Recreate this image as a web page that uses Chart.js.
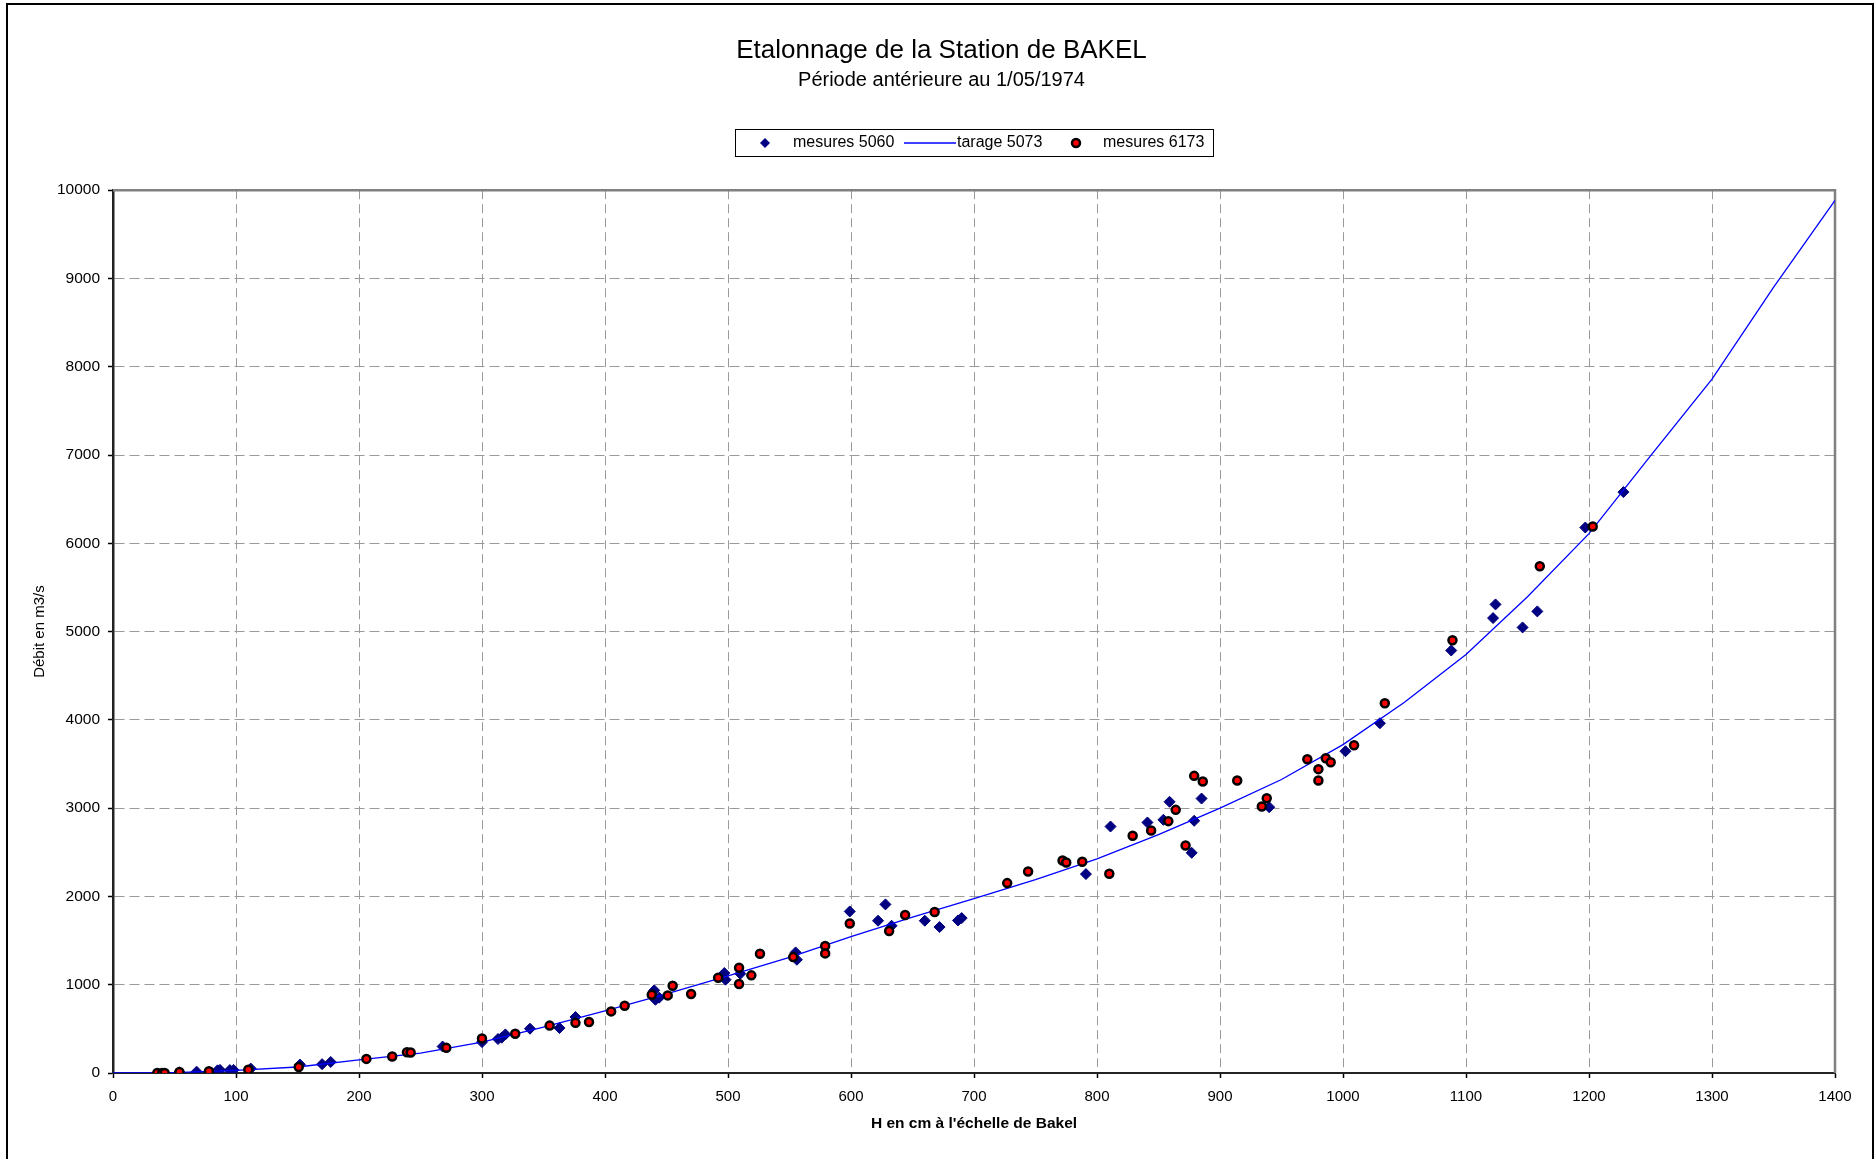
<!DOCTYPE html>
<html lang="fr">
<head>
<meta charset="UTF-8">
<title>Etalonnage de la Station de BAKEL</title>
<script src="https://cdn.jsdelivr.net/npm/chart.js"></script>
<style>
  html, body { margin: 0; padding: 0; background: #fff; }
  #wrap { width: 1876px; height: 1159px; }
</style>
</head>
<body>
<div id="wrap"><canvas id="bakel" width="1876" height="1159"></canvas></div>
<script>
// hauteurs H (cm) et débits Q (m3/s)
const h5060 = [54, 68, 85, 87, 95, 98, 112, 152, 170, 177, 268, 300, 313, 316, 319, 339, 363, 376,
  440, 441, 444, 497, 498, 510, 555, 556, 599, 622, 628, 633, 660, 672, 687, 690,
  791, 811, 841, 854, 859, 877, 879, 885, 940, 1002, 1030, 1088, 1122, 1124, 1146, 1158, 1197, 1228];
const q5060 = [8, 15, 30, 35, 33, 35, 50, 95, 100, 125, 300, 350, 385, 400, 437, 502, 509, 634,
  936, 830, 853, 1132, 1057, 1125, 1366, 1283, 1830, 1725, 1910, 1668, 1725, 1653, 1728, 1755,
  2253, 2792, 2838, 2868, 3072, 2494, 2857, 3109, 3011, 3645, 3962, 4786, 5153, 5308, 5047, 5229, 6179, 6580];

const h6173 = [36, 40, 42, 54, 78, 110, 151, 206, 227, 239, 242, 271, 300, 327, 355, 376, 387, 405,
  416, 438, 451, 455, 470, 492, 509, 509, 519, 526, 553, 579, 579, 599, 631, 644, 668,
  727, 744, 772, 775, 788, 810, 829, 844, 858, 864, 872, 879, 886, 914, 934, 938,
  971, 980, 980, 986, 990, 1009, 1034, 1089, 1160, 1203];
const q6173 = [0, 0, 0, 12, 19, 38, 68, 160, 186, 236, 232, 285, 391, 445, 537, 568, 577, 698,
  762, 887, 879, 989, 894, 1079, 1192, 1008, 1106, 1351, 1313, 1438, 1355, 1694, 1608, 1789, 1823,
  2151, 2283, 2407, 2385, 2392, 2257, 2687, 2747, 2853, 2981, 2577, 3366, 3302, 3313, 3019, 3113,
  3555, 3442, 3313, 3566, 3521, 3713, 4188, 4903, 5740, 6190];

// courbe de tarage 5073
const hTarage = [0, 30, 50, 100, 150, 200, 250, 300, 350, 400, 450, 500, 550, 600, 650, 700,
  750, 800, 850, 900, 950, 1000, 1050, 1100, 1150, 1200, 1250, 1300, 1350, 1400];
const qTarage = [0, 0, 5, 30, 68, 148, 225, 350, 520, 705, 895, 1100, 1310, 1545, 1765, 1975,
  2190, 2425, 2700, 3000, 3325, 3720, 4200, 4740, 5395, 6110, 6990, 7860, 8900, 9885];

const xMin = 0, xMax = 1400, xStep = 100;
const yMin = 0, yMax = 10000, yStep = 1000;

const toPoints = (xs, ys) => xs.map((x, i) => ({ x: x, y: ys[i] }));
const plain = v => String(v);

Chart.defaults.font.family = "'Liberation Sans', Arial, sans-serif";
Chart.defaults.color = '#000';

// cadre extérieur + bord gris du tracé
const frames = {
  id: 'frames',
  beforeDraw(chart) {
    const c = chart.ctx;
    c.save();
    c.fillStyle = '#fff';
    c.fillRect(0, 0, chart.width, chart.height);
    c.strokeStyle = '#000';
    c.lineWidth = 2;
    c.beginPath();
    c.moveTo(7, chart.height);
    c.lineTo(7, 4);
    c.lineTo(1873, 4);
    c.lineTo(1873, chart.height);
    c.stroke();
    c.restore();
  },
  beforeDatasetsDraw(chart) {
    const a = chart.chartArea;
    const c = chart.ctx;
    c.save();
    c.strokeStyle = '#808080';
    c.lineWidth = 2.5;
    c.beginPath();
    c.moveTo(a.left, a.top);
    c.lineTo(a.right, a.top);
    c.lineTo(a.right, a.bottom);
    c.stroke();
    c.restore();
  }
};

// légende encadrée
const legendBox = {
  id: 'legendBox',
  afterDraw(chart) {
    const c = chart.ctx;
    const y = 143;
    c.save();
    c.strokeStyle = '#000';
    c.lineWidth = 1;
    c.strokeRect(735.5, 129.5, 478, 27);

    c.fillStyle = '#000080';
    c.beginPath();
    c.moveTo(765, y - 5); c.lineTo(770, y); c.lineTo(765, y + 5); c.lineTo(760, y);
    c.closePath();
    c.fill();

    c.strokeStyle = '#0000ff';
    c.lineWidth = 1.3;
    c.beginPath();
    c.moveTo(904, y); c.lineTo(956, y);
    c.stroke();

    c.beginPath();
    c.arc(1076, y, 4, 0, Math.PI * 2);
    c.fillStyle = '#ff0000';
    c.fill();
    c.strokeStyle = '#000';
    c.lineWidth = 2.5;
    c.stroke();

    c.fillStyle = '#000';
    c.font = "16px 'Liberation Sans', Arial, sans-serif";
    c.textBaseline = 'middle';
    c.fillText('mesures 5060', 793, y);
    c.fillText('tarage 5073', 957, y);
    c.fillText('mesures 6173', 1103, y);
    c.restore();
  }
};

new Chart(document.getElementById('bakel'), {
  type: 'scatter',
  data: {
    datasets: [
      {
        label: 'mesures 5060',
        data: toPoints(h5060, q5060),
        pointStyle: 'rectRot',
        pointRadius: 5.5,
        pointBackgroundColor: '#000080',
        pointBorderColor: '#000080',
        pointBorderWidth: 1,
        order: 3
      },
      {
        label: 'tarage 5073',
        data: toPoints(hTarage, qTarage),
        showLine: true,
        pointRadius: 0,
        borderColor: '#0000ff',
        borderWidth: 1.3,
        tension: 0,
        order: 2
      },
      {
        label: 'mesures 6173',
        data: toPoints(h6173, q6173),
        pointStyle: 'circle',
        pointRadius: 4,
        pointBackgroundColor: '#ff0000',
        pointBorderColor: '#000',
        pointBorderWidth: 2.5,
        order: 1
      }
    ]
  },
  options: {
    responsive: false,
    animation: false,
    layout: { padding: { top: 10, right: 41, bottom: 0, left: 48 } },
    plugins: {
      legend: { display: false },
      tooltip: { enabled: false },
      title: {
        display: true,
        text: 'Etalonnage de la Station de BAKEL',
        font: { size: 26, weight: 'normal' },
        padding: { top: 25.5, bottom: 0 }
      },
      subtitle: {
        display: true,
        text: 'Période antérieure au 1/05/1974',
        font: { size: 20 },
        color: '#000',
        padding: { top: 2, bottom: 97.5 }
      }
    },
    scales: {
      x: {
        type: 'linear',
        min: xMin, max: xMax,
        ticks: { stepSize: xStep, font: { size: 15 }, padding: 10, maxRotation: 0, autoSkip: false, callback: plain },
        grid: { color: '#9a9a9a', lineWidth: 1, tickColor: '#000', tickLength: 5, tickWidth: 1.5 },
        border: { color: '#222', width: 2, dash: [9, 5] },
        title: {
          display: true,
          text: "H en cm à l'échelle de Bakel",
          font: { size: 15.5, weight: 'bold' },
          padding: { top: 4, bottom: 26 }
        },
        afterFit(scale) { scale.height = 86; }
      },
      y: {
        type: 'linear',
        min: yMin, max: yMax,
        ticks: { stepSize: yStep, font: { size: 15.5 }, padding: 8, callback: plain },
        grid: { color: '#9a9a9a', lineWidth: 1, tickColor: '#000', tickLength: 5, tickWidth: 1.5 },
        border: { color: '#222', width: 2.5, dash: [10, 5] },
        title: {
          display: true,
          text: 'Débit en m3/s',
          font: { size: 15 },
          padding: { top: -17, bottom: 4 }
        },
        afterFit(scale) { scale.width = 65; }
      }
    }
  },
  plugins: [frames, legendBox]
});
</script>
</body>
</html>
